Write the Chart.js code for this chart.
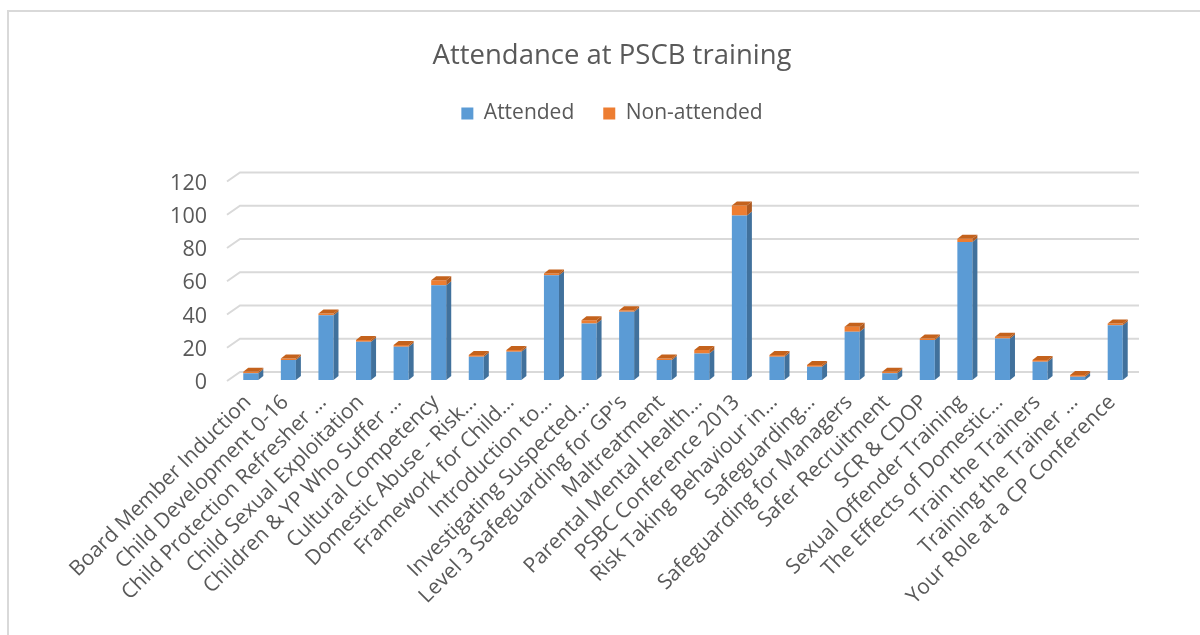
<!DOCTYPE html>
<html>
<head>
<meta charset="utf-8">
<script src="https://cdn.jsdelivr.net/npm/chart.js@4"></script>
<style>
html,body{margin:0;padding:0;background:#fff;}
#wrap{width:1200px;height:635px;}
</style>
</head>
<body>
<div id="wrap"><canvas id="c" width="1200" height="635"></canvas></div>
<script>
const categories = [
  "Board Member Induction","Child Development 0-16","Child Protection Refresher …",
  "Child Sexual Exploitation","Children & YP Who Suffer …","Cultural Competency",
  "Domestic Abuse - Risk…","Framework for Child…","Introduction to…",
  "Investigating Suspected…","Level 3 Safeguarding for GP's","Maltreatment",
  "Parental Mental Health…","PSBC Conference 2013","Risk Taking Behaviour in…",
  "Safeguarding…","Safeguarding for Managers","Safer Recruitment","SCR & CDOP",
  "Sexual Offender Training","The Effects of Domestic…","Train the Trainers",
  "Training the Trainer …","Your Role at a CP Conference"
];
const attended    = [4,12,39,23,20,57,14,17,63,34,41,12,16,99,14,8,29,4,24,83,25,11,2,33];
const nonAttended = [1,1,1,1,1,3,1,1,1,2,1,1,2,6,1,1,3,1,1,2,1,1,1,1];
const yTicks = [0,20,40,60,80,100,120];

const TXT = '#595959';
const FONT = "'Open Sans', 'DejaVu Sans', sans-serif";
const sideColors = ['#41719C', '#AE5A21'];
const topColors  = ['#4A7EB0', '#C4621C'];

const frame = {
  id: 'frame',
  beforeDraw(chart) {
    const ctx = chart.ctx;
    ctx.save();
    ctx.strokeStyle = '#d9d9d9';
    ctx.lineWidth = 2;
    ctx.strokeRect(8, 11, 1400, 1000);
    ctx.restore();
  }
};

const wallGrid = {
  id: 'wallGrid',
  beforeDatasetsDraw(chart) {
    const {ctx, chartArea} = chart;
    const y = chart.scales.y;
    ctx.save();
    ctx.strokeStyle = '#d9d9d9';
    ctx.lineWidth = 2;
    yTicks.forEach(v => {
      const yp = y.getPixelForValue(v);
      ctx.beginPath();
      ctx.moveTo(chartArea.left - 5, yp + 1);
      ctx.lineTo(chartArea.left + 8, yp - 8);
      ctx.lineTo(chartArea.right + 5, yp - 8);
      ctx.stroke();
    });
    ctx.restore();
  }
};

const bars3d = {
  id: 'bars3d',
  afterDatasetsDraw(chart) {
    const ctx = chart.ctx;
    const dx = 5, dy = 4;
    const metas = [chart.getDatasetMeta(0), chart.getDatasetMeta(1)];
    ctx.save();
    for (let i = 0; i < categories.length; i++) {
      let topY = Infinity, topIdx = 0, bx = 0, bw = 0;
      metas.forEach((m, d) => {
        const el = m.data[i];
        if (!el) return;
        const p = el.getProps(['x','y','base','width'], true);
        const r = p.x + p.width / 2;
        const t = Math.min(p.y, p.base), b = Math.max(p.y, p.base);
        if (b - t <= 0) return;
        ctx.fillStyle = sideColors[d];
        ctx.beginPath();
        ctx.moveTo(r, t);
        ctx.lineTo(r + dx, t - dy);
        ctx.lineTo(r + dx, b - dy);
        ctx.lineTo(r, b);
        ctx.closePath();
        ctx.fill();
        if (t < topY) { topY = t; topIdx = d; bx = p.x; bw = p.width; }
      });
      if (topY < Infinity) {
        const l = bx - bw / 2, r = bx + bw / 2;
        ctx.fillStyle = topColors[topIdx];
        ctx.beginPath();
        ctx.moveTo(l, topY);
        ctx.lineTo(l + dx, topY - dy);
        ctx.lineTo(r + dx, topY - dy);
        ctx.lineTo(r, topY);
        ctx.closePath();
        ctx.fill();
      }
    }
    ctx.restore();
  }
};

new Chart(document.getElementById('c'), {
  type: 'bar',
  data: {
    labels: categories,
    datasets: [
      { label: 'Attended', data: attended, backgroundColor: '#5B9BD5', borderWidth: 0, xAxisID: 'x', stack: 's' },
      { label: 'Non-attended', data: nonAttended, backgroundColor: '#ED7D31', borderWidth: 0, xAxisID: 'x', stack: 's' }
    ]
  },
  options: {
    responsive: false,
    animation: false,
    devicePixelRatio: 1,
    layout: { padding: { top: 0, left: 90, right: 66, bottom: 0 } },
    categoryPercentage: 1,
    barPercentage: 0.4,
    plugins: {
      title: {
        display: true,
        text: 'Attendance at PSCB training',
        color: TXT,
        font: { family: FONT, size: 27.5, weight: 'normal', lineHeight: 1.2 },
        padding: { top: 40, bottom: 1 }
      },
      legend: {
        display: true,
        position: 'top',
        labels: {
          color: TXT,
          font: { family: FONT, size: 21 },
          boxWidth: 12,
          boxHeight: 12,
          padding: 29
        }
      },
      tooltip: { enabled: false }
    },
    scales: {
      x: {
        type: 'category',
        position: 'bottom',
        stacked: true,
        offset: true,
        grid: { display: false, drawTicks: false },
        border: { display: false },
        ticks: {
          autoSkip: false,
          minRotation: 45,
          maxRotation: 45,
          color: TXT,
          padding: 10,
          labelOffset: -3,
          font: { family: FONT, size: 21 }
        },
        afterFit(s) { s.height = 255; }
      },
      xTop: {
        type: 'category',
        position: 'top',
        display: true,
        grid: { display: false, drawTicks: false },
        border: { display: false },
        ticks: { display: false },
        afterFit(s) { s.height = 46.5; }
      },
      y: {
        stacked: true,
        min: 0,
        max: 120,
        afterBuildTicks(s) { s.ticks = yTicks.map(v => ({ value: v })); },
        grid: { display: false, drawTicks: false },
        border: { display: false },
        ticks: {
          color: TXT,
          padding: 25,
          labelOffset: 3,
          font: { family: FONT, size: 21.5 }
        },
        afterFit(s) { s.width = 142; }
      }
    }
  },
  plugins: [frame, wallGrid, bars3d]
});
</script>
</body>
</html>
